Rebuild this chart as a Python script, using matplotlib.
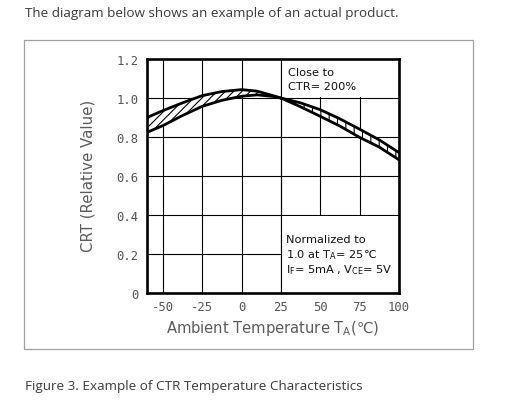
import numpy as np
import matplotlib.pyplot as plt
from matplotlib.patches import Rectangle

# ---------------------------------------------------------------------------
# Data
# ---------------------------------------------------------------------------

# left (hatched) band, -60 .. 25 degC
temp_low = [-60, -50, -37.5, -25, -12.5, 0, 10, 20, 25]
ctr_low_upper = [0.900, 0.935, 0.975, 1.012, 1.033, 1.043, 1.035, 1.012, 1.000]
ctr_low_lower = [0.824, 0.858, 0.910, 0.957, 0.988, 1.009, 1.016, 1.008, 1.000]

# right (laddered) band, 25 .. 100 degC
temp_high = [25, 37.5, 50, 62.5, 75, 87.5, 100]
ctr_high_upper = [1.000, 0.975, 0.940, 0.893, 0.840, 0.785, 0.720]
ctr_high_lower = [1.000, 0.955, 0.906, 0.856, 0.798, 0.748, 0.683]

x_ticks = [-50, -25, 0, 25, 50, 75, 100]
x_tick_labels = ["-50", "-25", "0", "25", "50", "75", "100"]
y_ticks = [0, 0.2, 0.4, 0.6, 0.8, 1.0, 1.2]
y_tick_labels = ["0", "0.2", "0.4", "0.6", "0.8", "1.0", "1.2"]

header = "The diagram below shows an example of an actual product."
caption = "Figure 3. Example of CTR Temperature Characteristics"
note_top = ["Close to", "CTR= 200%"]
note_bottom = ["Normalized to",
               r"1.0 at T$_{\mathrm{A}}$= 25℃",
               r"I$_{\mathrm{F}}$= 5mA , V$_{\mathrm{CE}}$= 5V"]

# ---------------------------------------------------------------------------
# Figure
# ---------------------------------------------------------------------------

W, H = 517, 414
plt.rcParams["mathtext.fontset"] = "dejavusans"
plt.rcParams["hatch.linewidth"] = 0.8

fig = plt.figure(figsize=(W / 100, H / 100), dpi=100)
fig.patch.set_facecolor("white")

# page text + framing box
page_font = ["Open Sans", "DejaVu Sans"]
fig.text(25 / W, 1 - 14 / H, header, family=page_font, fontsize=9.7,
         color="#3a3a3a", ha="left", va="center")
fig.text(25 / W, 1 - 387 / H, caption, family=page_font, fontsize=9.7,
         color="#3a3a3a", ha="left", va="center")
fig.patches.append(Rectangle((24 / W, 1 - 350 / H), 449 / W, 309 / H,
                             transform=fig.transFigure, fill=False,
                             edgecolor="#a0a0a0", linewidth=0.9))

ax = fig.add_axes([147 / W, 1 - 294 / H, 252 / W, 234 / H])
ax.set_xlim(-60, 100)
ax.set_ylim(0, 1.2)

ax.set_xticks(x_ticks)
ax.set_xticklabels(x_tick_labels)
ax.set_yticks(y_ticks)
ax.set_yticklabels(y_tick_labels)
ax.tick_params(axis="both", length=0, labelsize=8.8, labelcolor="#555555")
for lbl in ax.get_xticklabels() + ax.get_yticklabels():
    lbl.set_family("DejaVu Sans Mono")
ax.tick_params(axis="x", pad=5)
ax.tick_params(axis="y", pad=6)

ax.set_axisbelow(True)
ax.grid(True, color="black", linewidth=0.8)
for sp in ax.spines.values():
    sp.set_linewidth(1.9)
    sp.set_color("black")

# white note boxes hide the grid, the 25 degC line stays as their border
ax.add_patch(Rectangle((25, 1.006), 75, 0.2, facecolor="white",
                       edgecolor="none", zorder=1))
ax.add_patch(Rectangle((25, 0), 75, 0.394, facecolor="white",
                       edgecolor="none", zorder=1))
ax.axvline(25, color="black", linewidth=0.8, zorder=1.2)

# bands
ax.fill_between(temp_low, ctr_low_lower, ctr_low_upper, facecolor="white",
                edgecolor="black", hatch="////", linewidth=0, zorder=2)
ax.fill_between(temp_high, ctr_high_lower, ctr_high_upper, facecolor="white",
                edgecolor="black", hatch="||", linewidth=0, zorder=2)
for xs, ys in [(temp_low, ctr_low_upper), (temp_low, ctr_low_lower),
               (temp_high, ctr_high_upper), (temp_high, ctr_high_lower)]:
    ax.plot(xs, ys, color="black", linewidth=2.0, zorder=3,
            solid_capstyle="round")

# notes
for i, line in enumerate(note_top):
    ax.text(29.5, 1.135 - i * 0.072, line, fontsize=8.2, color="#111111",
            ha="left", va="center", zorder=4)
for i, line in enumerate(note_bottom):
    ax.text(28, 0.275 - i * 0.077, line, fontsize=8.2, color="#111111",
            ha="left", va="center", zorder=4)

# axis titles
fig.text(273 / W, 1 - 329 / H, r"Ambient Temperature T$_{\mathrm{A}}$(℃)",
         fontsize=10.6, color="#5a5a5a", ha="center", va="center")
fig.text(88 / W, 1 - 176 / H, "CRT (Relative Value)", fontsize=10.8,
         color="#5a5a5a", ha="center", va="center", rotation=90)

fig.savefig("out.png", dpi=100, facecolor="white")
